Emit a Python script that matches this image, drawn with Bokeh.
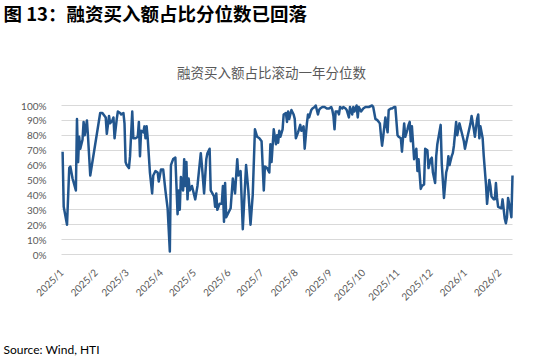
import math
import pandas as pd
from bokeh.plotting import figure
from bokeh.models import Range1d, FixedTicker, NumeralTickFormatter, Label, ColumnDataSource
from bokeh.embed import file_html
from bokeh.resources import INLINE

# ---------------- data ----------------
dates = [
    "2025-01-02", "2025-01-03", "2025-01-06", "2025-01-08", "2025-01-09", "2025-01-11", "2025-01-14", "2025-01-15",
    "2025-01-16", "2025-01-17", "2025-01-18", "2025-01-20", "2025-01-21", "2025-01-22", "2025-01-24", "2025-01-25",
    "2025-01-27",
    "2025-02-05", "2025-02-07", "2025-02-10", "2025-02-11", "2025-02-13", "2025-02-14", "2025-02-16", "2025-02-17",
    "2025-02-18", "2025-02-20", "2025-02-21", "2025-02-23", "2025-02-24", "2025-02-26", "2025-02-27", "2025-02-28",
    "2025-03-01", "2025-03-03", "2025-03-04", "2025-03-06", "2025-03-07", "2025-03-09", "2025-03-11", "2025-03-12",
    "2025-03-13", "2025-03-14", "2025-03-16", "2025-03-17", "2025-03-18", "2025-03-19", "2025-03-20", "2025-03-22",
    "2025-03-24", "2025-03-25", "2025-03-27", "2025-03-29", "2025-03-30",
    "2025-04-01", "2025-04-03", "2025-04-05", "2025-04-07", "2025-04-09", "2025-04-10", "2025-04-12", "2025-04-14",
    "2025-04-16", "2025-04-17", "2025-04-18", "2025-04-19", "2025-04-21", "2025-04-22", "2025-04-23", "2025-04-24",
    "2025-04-25", "2025-04-26", "2025-04-27", "2025-04-29",
    "2025-05-01", "2025-05-02", "2025-05-04", "2025-05-07", "2025-05-08", "2025-05-10", "2025-05-12", "2025-05-13",
    "2025-05-15", "2025-05-16", "2025-05-19", "2025-05-20", "2025-05-21", "2025-05-22", "2025-05-24", "2025-05-26",
    "2025-05-27", "2025-05-28", "2025-05-29", "2025-05-30",
    "2025-06-01", "2025-06-03", "2025-06-05", "2025-06-07", "2025-06-09", "2025-06-10", "2025-06-12", "2025-06-14",
    "2025-06-16", "2025-06-17", "2025-06-19", "2025-06-21", "2025-06-23", "2025-06-25", "2025-06-27", "2025-06-29",
    "2025-07-01", "2025-07-03", "2025-07-04", "2025-07-06", "2025-07-08", "2025-07-09", "2025-07-10", "2025-07-11",
    "2025-07-12", "2025-07-14", "2025-07-15", "2025-07-16", "2025-07-17", "2025-07-18", "2025-07-20", "2025-07-21",
    "2025-07-23", "2025-07-24", "2025-07-25", "2025-07-26", "2025-07-28", "2025-07-30", "2025-07-31",
    "2025-08-01", "2025-08-03", "2025-08-05", "2025-08-06", "2025-08-08", "2025-08-09", "2025-08-11", "2025-08-12",
    "2025-08-13", "2025-08-15", "2025-08-16", "2025-08-18", "2025-08-19", "2025-08-21", "2025-08-22", "2025-08-23",
    "2025-08-25", "2025-08-27", "2025-08-29", "2025-08-31",
    "2025-09-02", "2025-09-03", "2025-09-04", "2025-09-05", "2025-09-06", "2025-09-08", "2025-09-09", "2025-09-10",
    "2025-09-12", "2025-09-13", "2025-09-15", "2025-09-16", "2025-09-18", "2025-09-19", "2025-09-21", "2025-09-22",
    "2025-09-23", "2025-09-25", "2025-09-26", "2025-09-27", "2025-09-29",
    "2025-10-01", "2025-10-03", "2025-10-06", "2025-10-09", "2025-10-10", "2025-10-12", "2025-10-14", "2025-10-16",
    "2025-10-17", "2025-10-18", "2025-10-19", "2025-10-21", "2025-10-23", "2025-10-24", "2025-10-26", "2025-10-27",
    "2025-10-29", "2025-10-30",
    "2025-11-01", "2025-11-02", "2025-11-04", "2025-11-05", "2025-11-07", "2025-11-08", "2025-11-10", "2025-11-11",
    "2025-11-12", "2025-11-13", "2025-11-14", "2025-11-16", "2025-11-17", "2025-11-18", "2025-11-19", "2025-11-20",
    "2025-11-22", "2025-11-23", "2025-11-25", "2025-11-26", "2025-11-28", "2025-11-29",
    "2025-12-01", "2025-12-02", "2025-12-03", "2025-12-05", "2025-12-06", "2025-12-07", "2025-12-10", "2025-12-11",
    "2025-12-13", "2025-12-15", "2025-12-16", "2025-12-17", "2025-12-18", "2025-12-20", "2025-12-21", "2025-12-22",
    "2025-12-24", "2025-12-25", "2025-12-27", "2025-12-29", "2025-12-31",
    "2026-01-01", "2026-01-03", "2026-01-06", "2026-01-07", "2026-01-09", "2026-01-10", "2026-01-12", "2026-01-13",
    "2026-01-14", "2026-01-15", "2026-01-17", "2026-01-18", "2026-01-20", "2026-01-21", "2026-01-23", "2026-01-24",
    "2026-01-25", "2026-01-27", "2026-01-28", "2026-01-29", "2026-01-30", "2026-01-31",
    "2026-02-03", "2026-02-04", "2026-02-06", "2026-02-07", "2026-02-08", "2026-02-09", "2026-02-11", "2026-02-12",
    "2026-02-13",
]

pct_values = [
    69, 32, 20, 58, 59, 51, 43, 91, 62, 79, 71, 77, 89, 80, 90, 79, 53,
    95, 95, 92, 81, 93, 88, 90, 92, 78, 91, 96, 95, 94, 95, 88, 62,
    60, 58, 66, 96, 78, 78, 79, 89, 66, 83, 82, 86, 78, 86, 78, 55, 41, 53, 56, 55, 49,
    57, 57, 43, 31, 2, 60, 64, 65, 27, 43, 30, 52, 43, 64, 46, 62, 37, 51, 43, 46,
    40, 37, 46, 68, 60, 41, 64, 68, 71, 43, 39, 32, 41, 30, 34, 34, 46, 22, 48, 25,
    28, 31, 51, 41, 64, 53, 56, 17, 46, 60, 43, 20, 40, 84, 79, 78,
    76, 43, 59, 58, 55, 74, 62, 73, 84, 74, 80, 75, 83, 79, 84, 94, 95, 89, 96, 91, 97, 94, 91,
    78, 82, 87, 83, 86, 71, 88, 94, 92, 97, 98, 99, 100, 94, 97, 98, 99, 99, 98, 98,
    99, 97, 93, 84, 96, 96, 94, 99, 98, 99, 98, 97, 92, 99, 94, 99, 96, 100, 92, 99, 96,
    98, 99, 99, 100, 99, 91, 90, 88, 80, 73, 79, 92, 82, 97, 98, 98, 99, 99,
    80, 79, 78, 69, 88, 79, 84, 87, 89, 76, 86, 64, 68, 71, 56, 64, 44, 46, 47, 71, 70, 58,
    64, 65, 55, 48, 66, 74, 87, 61, 38, 55, 58, 66, 60, 66, 68, 73, 89, 80, 88, 82, 76,
    71, 78, 88, 93, 84, 79, 91, 94, 78, 86, 78, 66, 47, 34, 50, 46, 39, 37, 37, 48, 38, 32,
    31, 37, 24, 21, 25, 38, 30, 25, 53,
]

x_tick_labels = ["2025/1", "2025/2", "2025/3", "2025/4", "2025/5", "2025/6", "2025/7",
                 "2025/8", "2025/9", "2025/10", "2025/11", "2025/12", "2026/1", "2026/2"]
y_tick_values = [0, 0.1, 0.2, 0.3, 0.4, 0.5, 0.6, 0.7, 0.8, 0.9, 1.0]

fig_title = "图 13：融资买入额占比分位数已回落"
chart_title = "融资买入额占比滚动一年分位数"
source_note = "Source: Wind, HTI"

# ---------------- layout constants (pixels) ----------------
W, H = 550, 360
PX_LEFT, PX_RIGHT = 61, 512      # plot area horizontal extent
PX_TOP100, PX_ZERO = 105, 254    # y pixel of 100% and of 0%


def to_ms(s):
    return int(pd.Timestamp(s).value // 10**6)


xs = [to_ms(d) for d in dates]
ys = [v / 100.0 for v in pct_values]
tick_ms = [to_ms(pd.to_datetime(l + "/1", format="%Y/%m/%d")) for l in x_tick_labels]

x_axis_start = tick_ms[0]
x_axis_end = xs[-1]
ms_per_px = (x_axis_end - x_axis_start) / (PX_RIGHT - PX_LEFT)
u_per_px = 1.0 / (PX_ZERO - PX_TOP100)

src = ColumnDataSource(dict(x=xs, y=ys))

p = figure(width=W, height=H, output_backend="svg", toolbar_location=None,
           x_range=Range1d(x_axis_start - PX_LEFT * ms_per_px, x_axis_end + (W - PX_RIGHT) * ms_per_px),
           y_range=Range1d(-(H - PX_ZERO) * u_per_px, 1.0 + PX_TOP100 * u_per_px),
           min_border=0)

p.outline_line_color = None
p.background_fill_color = "white"
p.border_fill_color = "white"

# grid
p.xgrid.visible = False
grid = p.ygrid[0]
grid.ticker = FixedTicker(ticks=y_tick_values)
if "cross_bounds" in grid.properties():
    grid.cross_bounds = (x_axis_start, x_axis_end)
    grid.grid_line_color = "#d9d9d9"
    grid.grid_line_width = 1
else:
    grid.visible = False
    p.segment(x0=[x_axis_start] * len(y_tick_values), x1=[x_axis_end] * len(y_tick_values),
              y0=y_tick_values, y1=y_tick_values, line_color="#d9d9d9", line_width=1)

# y axis
ya = p.yaxis[0]
ya.fixed_location = x_axis_start
ya.ticker = FixedTicker(ticks=y_tick_values)
ya.formatter = NumeralTickFormatter(format="0%")
ya.axis_line_color = None
ya.major_tick_line_color = None
ya.minor_tick_line_color = None
ya.major_label_text_font = "Lato"
ya.major_label_text_font_size = "10px"
ya.major_label_text_color = "#595959"
ya.major_label_standoff = 9

# x axis
xa = p.xaxis[0]
xa.fixed_location = 0
xa.ticker = FixedTicker(ticks=tick_ms)
xa.major_label_overrides = {t: l for t, l in zip(tick_ms, x_tick_labels)}
xa.major_label_orientation = math.pi / 4
xa.axis_line_color = None
xa.major_tick_line_color = None
xa.minor_tick_line_color = None
xa.major_label_text_font = "Lato"
xa.major_label_text_font_size = "10px"
xa.major_label_text_color = "#595959"
xa.major_label_standoff = 10

p.line(x="x", y="y", source=src, line_color="#22568e", line_width=2.5, line_join="round")

# texts (screen units: x from left, y up from bottom)
p.add_layout(Label(x=3, y=H - 12.5, x_units="screen", y_units="screen",
                   text=fig_title, text_font="Noto Sans CJK SC", text_font_size="18.5px",
                   text_font_style="bold", text_color="black", text_baseline="middle"))
p.add_layout(Label(x=271, y=H - 71, x_units="screen", y_units="screen",
                   text=chart_title, text_font="Noto Sans CJK SC", text_font_size="13.5px",
                   text_color="#595959", text_align="center", text_baseline="middle"))
p.add_layout(Label(x=3, y=H - 349, x_units="screen", y_units="screen",
                   text=source_note, text_font="Lato", text_font_size="12px",
                   text_color="black", text_baseline="middle"))

open("out.html", "w").write(file_html(p, INLINE))
